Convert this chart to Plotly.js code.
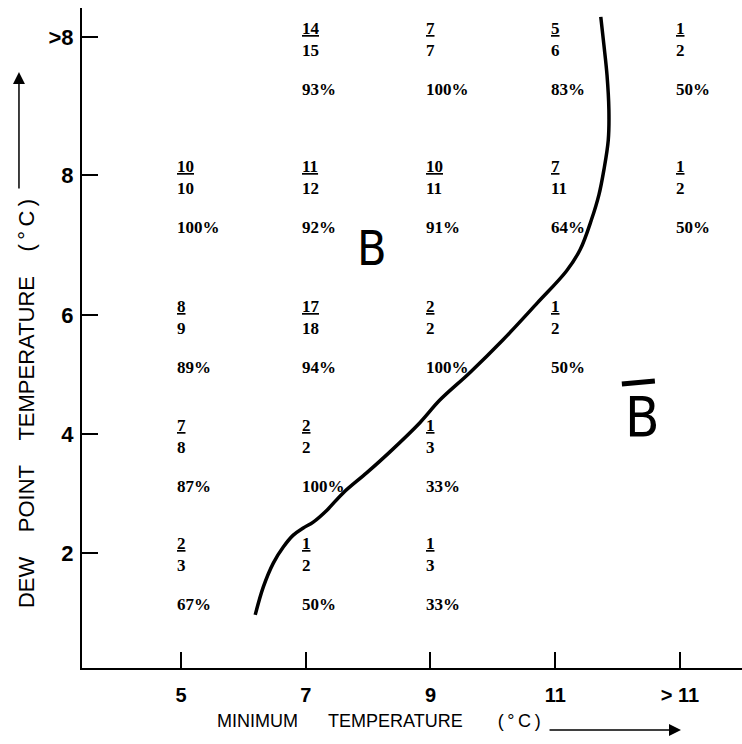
<!DOCTYPE html>
<html><head><meta charset="utf-8">
<script src="https://cdn.plot.ly/plotly-3.0.1.min.js"></script>
<style>html,body{margin:0;padding:0;background:#fff;} #chart{width:742px;height:744px;}</style>
</head><body><div id="chart"></div>
<script>
// ---- data ----
const colLabels = ['5', '7', '9', '11', '> 11'];
const rowLabels = ['2', '4', '6', '8', '>8'];
const cellCol = [1, 2, 3, 4, 0, 1, 2, 3, 4, 0, 1, 2, 3, 0, 1, 2, 0, 1, 2];
const cellRow = [4, 4, 4, 4, 3, 3, 3, 3, 3, 2, 2, 2, 2, 1, 1, 1, 0, 0, 0];
const numerators   = [14, 7, 5, 1, 10, 11, 10, 7, 1, 8, 17, 2, 1, 7, 2, 1, 2, 1, 1];
const denominators = [15, 7, 6, 2, 10, 12, 11, 11, 2, 9, 18, 2, 2, 8, 2, 3, 3, 2, 3];
const percents     = [93, 100, 83, 50, 100, 92, 91, 64, 50, 89, 94, 100, 50, 87, 100, 33, 67, 50, 33];
// boundary curve between B and not-B (axis units)
const curveX = [6.19, 6.32, 6.48, 6.64, 6.80, 6.96, 7.12, 7.34, 7.60, 7.98, 8.35, 8.83, 9.15, 9.63, 10.16, 10.71, 11.18, 11.40, 11.58, 11.70, 11.78, 11.85, 11.86, 11.83, 11.78, 11.73];
const curveY = [0.96, 1.43, 1.83, 2.10, 2.30, 2.42, 2.52, 2.72, 3.01, 3.35, 3.70, 4.19, 4.57, 5.03, 5.58, 6.20, 6.74, 7.10, 7.60, 8.02, 8.44, 8.94, 9.45, 10.03, 10.54, 11.01];

// ---- layout helpers (axis positions of the category ticks) ----
const colPos = [5, 7, 9, 11, 13];
const rowPos = [2, 4, 6, 8.353, 10.672];

const serif = {family: 'Liberation Serif, Times New Roman, serif', size: 17, color: '#000', weight: 'bold'};
const annotations = [];
for (let i = 0; i < numerators.length; i++) {
  annotations.push({
    x: colPos[cellCol[i]], y: rowPos[cellRow[i]], xref: 'x', yref: 'y',
    text: '<u>' + numerators[i] + '</u><br>' + denominators[i],
    showarrow: false, xanchor: 'left', yanchor: 'middle', align: 'left',
    xshift: -6, yshift: -2, font: serif
  });
  annotations.push({
    x: colPos[cellCol[i]], y: rowPos[cellRow[i]], xref: 'x', yref: 'y',
    text: percents[i] + '%',
    showarrow: false, xanchor: 'left', yanchor: 'middle', align: 'left',
    xshift: -6, yshift: -52, font: serif
  });
}
const nb = '\u00A0';
const sp = n => nb.repeat(n);
annotations.push({
  xref: 'paper', yref: 'paper', x: 0.2015, y: -0.0803, xanchor: 'left', yanchor: 'middle',
  text: 'MINIMUM' + sp(6) + 'TEMPERATURE' + sp(7) + '(\u2009°\u2009C\u2009)',
  showarrow: false, font: {family: 'Liberation Sans, Arial, sans-serif', size: 18, color: '#000'}
});
annotations.push({
  xref: 'paper', yref: 'paper', x: -0.0848, y: 0.40, xanchor: 'center', yanchor: 'middle',
  textangle: -90,
  text: 'DEW' + sp(4) + 'POINT' + sp(4) + 'TEMPERATURE' + sp(4) + '(\u2009°\u2009C\u2009)',
  showarrow: false, font: {family: 'Liberation Sans, Arial, sans-serif', size: 22, color: '#000'}
});
// arrows
annotations.push({
  xref: 'paper', yref: 'paper', x: 0.9076, y: -0.0939, ax: -133, ay: 0, text: '',
  showarrow: true, arrowhead: 2, arrowsize: 1.6, arrowwidth: 1.5, arrowcolor: '#000', standoff: 0
});
annotations.push({
  xref: 'paper', yref: 'paper', x: -0.0955, y: 0.903, ax: 0, ay: 118, text: '',
  showarrow: true, arrowhead: 2, arrowsize: 1.6, arrowwidth: 1.5, arrowcolor: '#000', standoff: 0
});
// region labels
const bFont = {family: 'Liberation Sans Narrow, DejaVu Sans Condensed, Liberation Sans, sans-serif', size: 48, color: '#000'};
annotations.push({xref: 'paper', yref: 'paper', x: 0.4394, y: 0.6371, text: 'B', showarrow: false,
  xanchor: 'center', yanchor: 'middle', font: bFont});
annotations.push({xref: 'paper', yref: 'paper', x: 0.8485, y: 0.3818, text: 'B', showarrow: false,
  xanchor: 'center', yanchor: 'middle', font: Object.assign({}, bFont, {size: 56})});

const shapes = [{
  type: 'line', xref: 'paper', yref: 'paper', x0: 0.818, y0: 0.4303, x1: 0.868, y1: 0.4348,
  line: {color: '#000', width: 5}
}];

const axisCommon = {
  showline: true, linewidth: 2, linecolor: '#000', ticks: 'inside', ticklen: 16, tickwidth: 2,
  tickcolor: '#000', showgrid: false, zeroline: false, automargin: false, fixedrange: true
};

const data = [{
  type: 'scatter', mode: 'lines', x: curveX, y: curveY,
  line: {color: '#000', width: 3.5, shape: 'spline', smoothing: 1}, hoverinfo: 'skip'
}];

const layout = {
  width: 742, height: 744,
  margin: {l: 82, r: 0, t: 8, b: 76},
  paper_bgcolor: '#fff', plot_bgcolor: '#fff', showlegend: false,
  xaxis: Object.assign({}, axisCommon, {
    range: [3.413, 13.994], tickmode: 'array', tickvals: colPos, ticktext: colLabels,
    tickfont: {family: 'Liberation Sans, Arial, sans-serif', size: 20, color: '#000', weight: 'bold'},
    ticklabelstandoff: 8
  }),
  yaxis: Object.assign({}, axisCommon, {
    range: [0.067, 11.16], tickmode: 'array', tickvals: rowPos, ticktext: rowLabels,
    tickfont: {family: 'Liberation Sans, Arial, sans-serif', size: 22, color: '#000', weight: 'bold'},
    ticklabelstandoff: 2
  }),
  annotations: annotations, shapes: shapes
};
Plotly.newPlot('chart', data, layout, {displayModeBar: false, staticPlot: true});
</script>
</body></html>
